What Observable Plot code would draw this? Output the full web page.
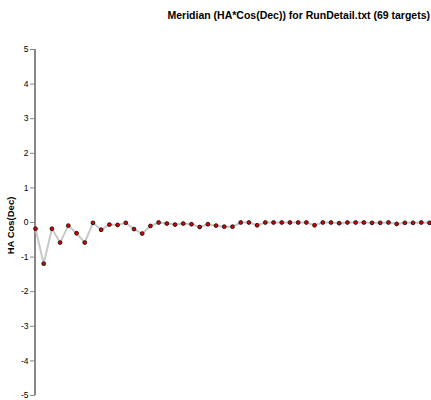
<!DOCTYPE html>
<html>
<head>
<meta charset="utf-8">
<script src="https://cdn.jsdelivr.net/npm/d3@7"></script>
<script src="https://cdn.jsdelivr.net/npm/@observablehq/plot@0.6"></script>
<style>
  body { margin: 0; background: #fff; }
  #wrap { width: 431px; height: 400px; overflow: hidden; font-family: "Liberation Sans", Arial, sans-serif; }
  #title { height: 30px; box-sizing: border-box; padding-top: 9px; padding-right: 1px; text-align: right; font-weight: bold; font-size: 10.5px; line-height: 12px; color: #000; white-space: nowrap; }
</style>
</head>
<body>
<div id="wrap">
  <div id="title">Meridian (HA*Cos(Dec)) for RunDetail.txt (69 targets)</div>
  <div id="chart"></div>
</div>
<script>
const titleText = "Meridian (HA*Cos(Dec)) for RunDetail.txt (69 targets)";
const yLabel = "HA Cos(Dec)";
const yTicks = [-5, -4, -3, -2, -1, 0, 1, 2, 3, 4, 5];
const haCosDec = [-0.18, -1.19, -0.18, -0.58, -0.09, -0.31, -0.58, -0.01, -0.21, -0.06,
  -0.07, -0.01, -0.19, -0.32, -0.10, 0.00, -0.03, -0.06, -0.03, -0.05,
  -0.13, -0.05, -0.09, -0.12, -0.12, 0.00, 0.00, -0.08, 0.00, 0.00,
  0.00, 0.00, 0.00, 0.00, -0.08, 0.00, 0.00, -0.02, 0.00, 0.00,
  0.00, -0.01, -0.01, 0.00, -0.04, -0.01, -0.01, 0.00, -0.01];
const targetIndex = haCosDec.map((_, i) => i + 1);

const data = targetIndex.map((t, i) => ({t, v: haCosDec[i]}));

const chart = Plot.plot({
  width: 431,
  height: 370,
  marginLeft: 35,
  marginRight: 2,
  marginTop: 19,
  marginBottom: 5,
  style: {fontFamily: "'Liberation Sans', Arial, sans-serif", fontSize: "8.5px", color: "#000", background: "#fff"},
  x: {domain: [1, targetIndex.length], axis: null},
  y: {domain: [-5, 5], ticks: yTicks, label: null},
  marks: [
    Plot.axisY({ticks: yTicks, tickSize: 5, tickPadding: 2, stroke: "#888", fill: "#000", label: null, tickFormat: d => d < 0 ? "-" + Math.abs(d) : String(d)}),
    Plot.ruleX([1], {y1: -5, y2: 5, stroke: "#888", strokeWidth: 2, dx: -0.5}),
    Plot.line(data, {x: "t", y: "v", stroke: "#c8c8c8", strokeWidth: 2}),
    Plot.dot(data, {x: "t", y: "v", r: 1.9, fill: "#dd0000", stroke: "#111", strokeWidth: 0.9})
  ]
});
document.getElementById("chart").appendChild(chart);

// y-axis label
const svg = d3.select(chart);
svg.append("text")
  .attr("transform", "translate(14," + (225.5 - 30) + ") rotate(-90)")
  .attr("text-anchor", "middle")
  .attr("font-weight", "bold")
  .attr("font-size", "9.5px")
  .attr("fill", "#000")
  .text(yLabel);
</script>
</body>
</html>
